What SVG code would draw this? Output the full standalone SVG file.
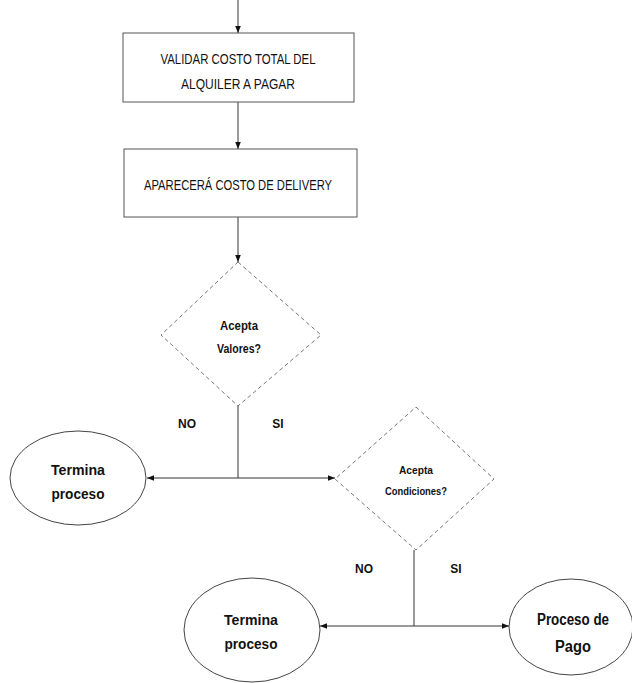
<svg xmlns="http://www.w3.org/2000/svg" width="632" height="683" viewBox="0 0 632 683">
<style>
.box{fill:#fff;stroke:#555;stroke-width:1}
.dia{fill:#fff;stroke:#777;stroke-width:1;stroke-dasharray:4 3}
.ell{fill:#fff;stroke:#444;stroke-width:1}
.con{fill:none;stroke:#333;stroke-width:1}
.t{font-family:"Liberation Sans",Arial,sans-serif;fill:#111;text-anchor:middle}
.b{font-weight:bold}
</style>
<defs>
<marker id="ah" viewBox="0 0 10 10" refX="10" refY="5" markerWidth="7" markerHeight="7" orient="auto-start-reverse" markerUnits="userSpaceOnUse">
<path d="M0,1 L10,5 L0,9 Z" fill="#111"/>
</marker>
</defs>
<g id="connectors">
<line class="con" x1="238" y1="0" x2="238" y2="33" marker-end="url(#ah)"/>
<line class="con" x1="238" y1="102" x2="238" y2="149" marker-end="url(#ah)"/>
<line class="con" x1="238" y1="217" x2="238" y2="262" marker-end="url(#ah)"/>
<line class="con" x1="238" y1="406" x2="238" y2="478"/>
<line class="con" x1="238" y1="478" x2="147" y2="478" marker-end="url(#ah)"/>
<line class="con" x1="238" y1="478" x2="335" y2="478" marker-end="url(#ah)"/>
<line class="con" x1="414" y1="550" x2="414" y2="626"/>
<line class="con" x1="414" y1="626" x2="320" y2="626" marker-end="url(#ah)"/>
<line class="con" x1="414" y1="626" x2="509" y2="626" marker-end="url(#ah)"/>
</g>
<g id="n1">
<rect class="box" x="123" y="33" width="231" height="69"/>
<text class="t" x="238" y="64" font-size="15" textLength="155" lengthAdjust="spacingAndGlyphs">VALIDAR COSTO TOTAL DEL</text>
<text class="t" x="238" y="89" font-size="15" textLength="114" lengthAdjust="spacingAndGlyphs">ALQUILER A PAGAR</text>
</g>
<g id="n2">
<rect class="box" x="124" y="149" width="233" height="68"/>
<text class="t" x="238" y="190" font-size="15" textLength="188" lengthAdjust="spacingAndGlyphs">APARECERÁ COSTO DE DELIVERY</text>
</g>
<g id="d1">
<polygon class="dia" points="238,262 321,335 238,406 161,335"/>
<text class="t b" x="239" y="330" font-size="12" textLength="38" lengthAdjust="spacingAndGlyphs">Acepta</text>
<text class="t b" x="239" y="353" font-size="12" textLength="44" lengthAdjust="spacingAndGlyphs">Valores?</text>
</g>
<g id="e1">
<ellipse class="ell" cx="78" cy="478" rx="68" ry="47"/>
<text class="t b" x="78" y="475" font-size="15" textLength="54" lengthAdjust="spacingAndGlyphs">Termina</text>
<text class="t b" x="78" y="499" font-size="15" textLength="53" lengthAdjust="spacingAndGlyphs">proceso</text>
</g>
<g id="d2">
<polygon class="dia" points="416,407 494,479 416,550 335,479"/>
<text class="t b" x="416" y="474" font-size="11" textLength="34" lengthAdjust="spacingAndGlyphs">Acepta</text>
<text class="t b" x="416" y="495" font-size="11" textLength="62" lengthAdjust="spacingAndGlyphs">Condiciones?</text>
</g>
<g id="e2">
<ellipse class="ell" cx="252" cy="630" rx="68" ry="52"/>
<text class="t b" x="251" y="625" font-size="15" textLength="54" lengthAdjust="spacingAndGlyphs">Termina</text>
<text class="t b" x="251" y="649" font-size="15" textLength="53" lengthAdjust="spacingAndGlyphs">proceso</text>
</g>
<g id="e3">
<ellipse class="ell" cx="571" cy="627" rx="62" ry="48"/>
<text class="t b" x="573" y="625" font-size="16" textLength="72" lengthAdjust="spacingAndGlyphs">Proceso de</text>
<text class="t b" x="573" y="652" font-size="16" textLength="36" lengthAdjust="spacingAndGlyphs">Pago</text>
</g>
<g id="labels">
<text class="t b" x="187" y="428" font-size="12">NO</text>
<text class="t b" x="278" y="428" font-size="12">SI</text>
<text class="t b" x="364" y="573" font-size="12">NO</text>
<text class="t b" x="456" y="573" font-size="12">SI</text>
</g>
</svg>
